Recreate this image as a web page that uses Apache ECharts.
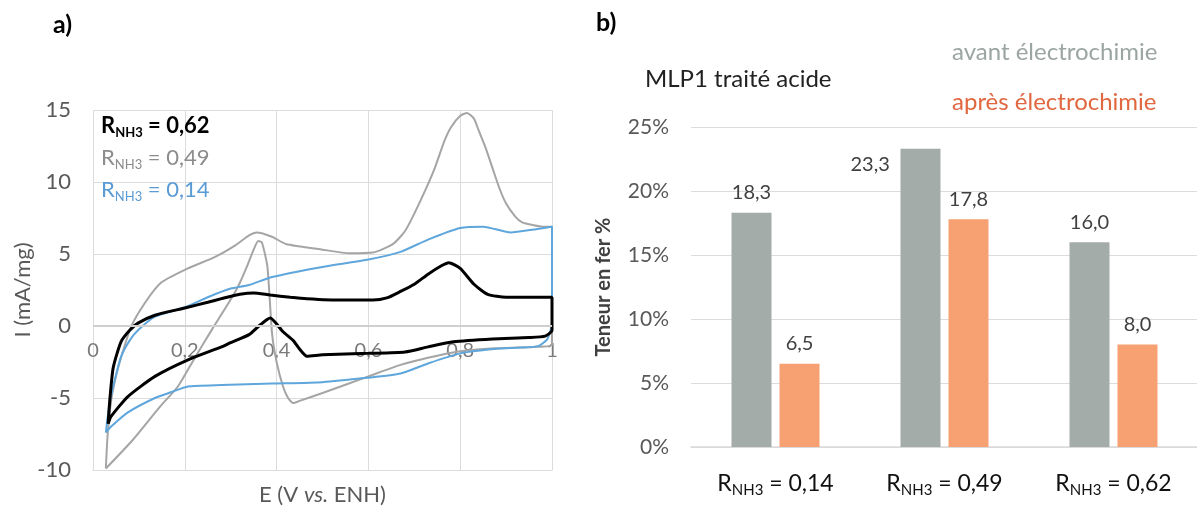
<!DOCTYPE html>
<html><head><meta charset="utf-8">
<script src="https://cdn.jsdelivr.net/npm/echarts@6/dist/echarts.min.js"></script>
<style>html,body{margin:0;padding:0;background:#fff}#c{width:1197px;height:513px}</style>
</head><body><div id="c"></div>
<script>
// ---- Panel a) cyclic voltammograms: [E (V vs ENH), I (mA/mg)] ----
const cvR062 = [
  [0.033,-6.8],[0.037,-5.0],[0.044,-2.9],[0.061,-1.1],[0.08,-0.3],[0.098,0.2],[0.135,0.75],[0.2,1.25],
  [0.25,1.65],[0.28,1.9],[0.32,2.2],[0.35,2.3],[0.386,2.15],[0.43,2.0],[0.466,1.9],[0.54,1.8],[0.61,1.8],
  [0.64,1.95],[0.67,2.4],[0.70,2.9],[0.73,3.6],[0.76,4.2],[0.775,4.4],[0.80,4.0],[0.83,2.9],[0.86,2.2],
  [0.90,2.0],[0.95,2.0],[1.0,2.0],
  [1.0,-0.3],[0.985,-0.7],[0.95,-0.8],[0.87,-0.9],[0.785,-1.1],[0.73,-1.45],[0.68,-1.8],[0.6,-1.9],
  [0.5,-2.0],[0.466,-2.1],[0.45,-1.6],[0.436,-1.0],[0.414,-0.4],[0.386,0.55],[0.364,0.07],[0.34,-0.6],
  [0.30,-1.15],[0.28,-1.45],[0.207,-2.35],[0.135,-3.5],[0.076,-4.9],[0.039,-6.3],[0.033,-6.8]
];
const cvR049 = [
  [0.028,-9.9],[0.032,-7.5],[0.04,-5.1],[0.05,-3.5],[0.061,-2.2],[0.083,-0.05],[0.113,1.6],[0.148,3.0],
  [0.2,3.9],[0.266,4.8],[0.31,5.6],[0.34,6.3],[0.357,6.5],[0.39,6.2],[0.42,5.7],[0.5,5.3],[0.56,5.05],
  [0.61,5.1],[0.654,5.7],[0.68,6.6],[0.70,7.8],[0.725,9.5],[0.745,11.0],[0.765,12.8],[0.78,13.8],
  [0.80,14.6],[0.815,14.8],[0.83,14.4],[0.84,13.6],[0.855,12.4],[0.87,11.0],[0.885,9.6],[0.90,8.5],
  [0.92,7.6],[0.935,7.2],[0.96,7.0],[0.98,6.9],[1.0,6.9],
  [1.0,-1.3],[0.96,-1.45],[0.875,-1.55],[0.80,-1.75],[0.73,-2.2],[0.67,-2.7],[0.60,-3.5],[0.50,-4.65],
  [0.45,-5.2],[0.436,-5.35],[0.425,-5.0],[0.414,-4.2],[0.40,-2.5],[0.39,-0.5],[0.38,4.1],[0.368,5.8],
  [0.36,5.9],[0.35,5.3],[0.335,4.1],[0.32,3.0],[0.305,2.1],[0.26,-0.2],[0.222,-2.2],[0.185,-4.2],
  [0.146,-5.6],[0.087,-7.9],[0.028,-9.9]
];
const cvR014 = [
  [0.028,-7.4],[0.035,-5.6],[0.044,-4.2],[0.061,-2.15],[0.08,-1.0],[0.098,-0.3],[0.135,0.65],[0.2,1.3],
  [0.25,2.0],[0.30,2.6],[0.34,2.85],[0.39,3.4],[0.5,4.1],[0.597,4.6],[0.67,5.15],[0.73,6.0],[0.80,6.8],
  [0.85,6.9],[0.91,6.5],[0.96,6.7],[1.0,6.9],
  [1.0,0.2],[0.99,-0.9],[0.97,-1.4],[0.93,-1.5],[0.875,-1.6],[0.80,-1.9],[0.73,-2.6],[0.67,-3.3],
  [0.597,-3.6],[0.5,-3.9],[0.39,-4.0],[0.28,-4.1],[0.207,-4.2],[0.17,-4.6],[0.135,-5.0],[0.076,-6.0],
  [0.039,-7.0],[0.028,-7.4]
];
const cvSeriesNames = ['0,62','0,49','0,14'];

// ---- Panel b) iron content ----
const barCategories = ['0,14','0,49','0,62'];
const avantValues = [18.3, 23.3, 16.0];
const apresValues = [6.5, 17.8, 8.0];
const barSeriesNames = ['avant électrochimie','après électrochimie'];

const FONT = 'Lato, "Open Sans", sans-serif';
const comma = v => String(v).replace('.', ',');
const rLabel = name => '{r|R}{s|NH3}{r| = ' + name + '}';

const chart = echarts.init(document.getElementById('c'));
chart.setOption({
  backgroundColor: '#fff',
  textStyle: { fontFamily: FONT },
  animation: false,
  title: [
    { text: 'a)', left: 53, top: 12, padding: 0, textStyle: { fontSize: 25, fontWeight: 'bold', color: '#000', fontFamily: FONT } },
    { text: 'b)', left: 596, top: 10, padding: 0, textStyle: { fontSize: 25, fontWeight: 'bold', color: '#000', fontFamily: FONT } },
    { text: 'MLP1 traité acide', left: 645, top: 67, padding: 0, textStyle: { fontSize: 24, fontWeight: 'normal', color: '#222', fontFamily: FONT } }
  ],
  legend: [
    {
      orient: 'vertical', left: 90, top: 110, itemWidth: 0, itemHeight: 0, itemGap: 8,
      selectedMode: false,
      formatter: rLabel,
      textStyle: {
        fontFamily: FONT, fontSize: 22,
        rich: { r: { fontSize: 22, lineHeight: 26 }, s: { fontSize: 13, lineHeight: 14, verticalAlign: 'bottom' } }
      },
      data: [
        { name: cvSeriesNames[0], textStyle: { color: '#000', fontWeight: 'bold' } },
        { name: cvSeriesNames[1], textStyle: { color: '#8c8c8c' } },
        { name: cvSeriesNames[2], textStyle: { color: '#5b9bd5' } }
      ]
    },
    {
      orient: 'vertical', left: 942, top: 33, itemWidth: 0, itemHeight: 0, itemGap: 22,
      selectedMode: false,
      textStyle: { fontFamily: FONT, fontSize: 24, lineHeight: 28 },
      data: [
        { name: barSeriesNames[0], textStyle: { color: '#9ba5a1' } },
        { name: barSeriesNames[1], textStyle: { color: '#e0673f' } }
      ]
    }
  ],
  grid: [
    { left: 93, top: 110, width: 459, height: 360, outerBoundsMode: 'none', containLabel: false },
    { left: 691, top: 127, width: 507, height: 320, outerBoundsMode: 'none', containLabel: false }
  ],
  xAxis: [
    {
      gridIndex: 0, type: 'value', min: 0, max: 1, interval: 0.2, position: 'bottom',
      axisLine: { onZero: false, lineStyle: { color: '#dcdcdc', width: 1 } },
      axisTick: { show: false },
      splitLine: { show: true, lineStyle: { color: '#dcdcdc' } },
      axisLabel: { color: '#7a7a7a', fontSize: 20, margin: -129, formatter: v => (v === 0 || v === 1) ? String(v) : comma(v.toFixed(1)) },
      name: '{n|E (V }{i|vs.}{n| ENH)}', nameLocation: 'middle', nameGap: 14,
      nameTextStyle: { color: '#595959', rich: { n: { fontSize: 22, color: '#595959' }, i: { fontSize: 22, fontStyle: 'italic', color: '#595959' } } }
    },
    {
      gridIndex: 1, type: 'category', data: barCategories,
      axisLine: { lineStyle: { color: '#d9d9d9', width: 1.5 } },
      axisTick: { show: false },
      axisLabel: {
        margin: 23, color: '#111', formatter: rLabel,
        rich: { r: { fontSize: 23, lineHeight: 28, color: '#111' }, s: { fontSize: 15, lineHeight: 16, verticalAlign: 'bottom', color: '#111' } }
      }
    }
  ],
  yAxis: [
    {
      gridIndex: 0, type: 'value', min: -10, max: 15, interval: 5,
      axisLine: { show: false }, axisTick: { show: false },
      splitLine: { lineStyle: { color: '#dcdcdc' } },
      axisLabel: { color: '#595959', fontSize: 22, margin: 22 },
      name: 'I (mA/mg)', nameLocation: 'middle', nameGap: 58,
      nameTextStyle: { color: '#595959', fontSize: 22 }
    },
    {
      gridIndex: 1, type: 'value', min: 0, max: 25, interval: 5,
      axisLine: { show: false }, axisTick: { show: false },
      splitLine: { lineStyle: { color: '#dcdcdc' } },
      axisLabel: { color: '#595959', fontSize: 21, margin: 22, formatter: '{value}%' },
      name: 'Teneur en fer %', nameLocation: 'middle', nameGap: 77,
      nameTextStyle: { color: '#404040', fontSize: 20, fontWeight: 'bold' }
    }
  ],
  series: [
    { name: cvSeriesNames[1], type: 'line', xAxisIndex: 0, yAxisIndex: 0, data: cvR049, showSymbol: false, smooth: 0.2,
      lineStyle: { color: '#a5a5a5', width: 2 }, itemStyle: { color: '#a5a5a5' },
      markLine: { silent: true, symbol: 'none', label: { show: false }, lineStyle: { color: '#cfcfcf', width: 2, type: 'solid' }, data: [{ yAxis: 0 }] } },
    { name: cvSeriesNames[2], type: 'line', xAxisIndex: 0, yAxisIndex: 0, data: cvR014, showSymbol: false, smooth: 0.2,
      lineStyle: { color: '#5ea6dc', width: 2 }, itemStyle: { color: '#5ea6dc' } },
    { name: cvSeriesNames[0], type: 'line', xAxisIndex: 0, yAxisIndex: 0, data: cvR062, showSymbol: false, smooth: 0.2,
      lineStyle: { color: '#000', width: 3 }, itemStyle: { color: '#000' } },
    {
      name: barSeriesNames[0], type: 'bar', xAxisIndex: 1, yAxisIndex: 1, barWidth: 40, barGap: '20%',
      itemStyle: { color: '#a3aca9' },
      label: { show: true, position: 'top', distance: 10, fontSize: 20, color: '#404040', formatter: p => comma(p.value.toFixed(1)) },
      data: avantValues.map((v, i) => i === 1 ? { value: v, label: { position: [-50, 6], align: 'left', verticalAlign: 'top' } } : v)
    },
    {
      name: barSeriesNames[1], type: 'bar', xAxisIndex: 1, yAxisIndex: 1, barWidth: 40, barGap: '20%',
      itemStyle: { color: '#f7a072' },
      label: { show: true, position: 'top', distance: 10, fontSize: 20, color: '#404040', formatter: p => comma(p.value.toFixed(1)) },
      data: apresValues
    }
  ]
});
</script></body></html>
